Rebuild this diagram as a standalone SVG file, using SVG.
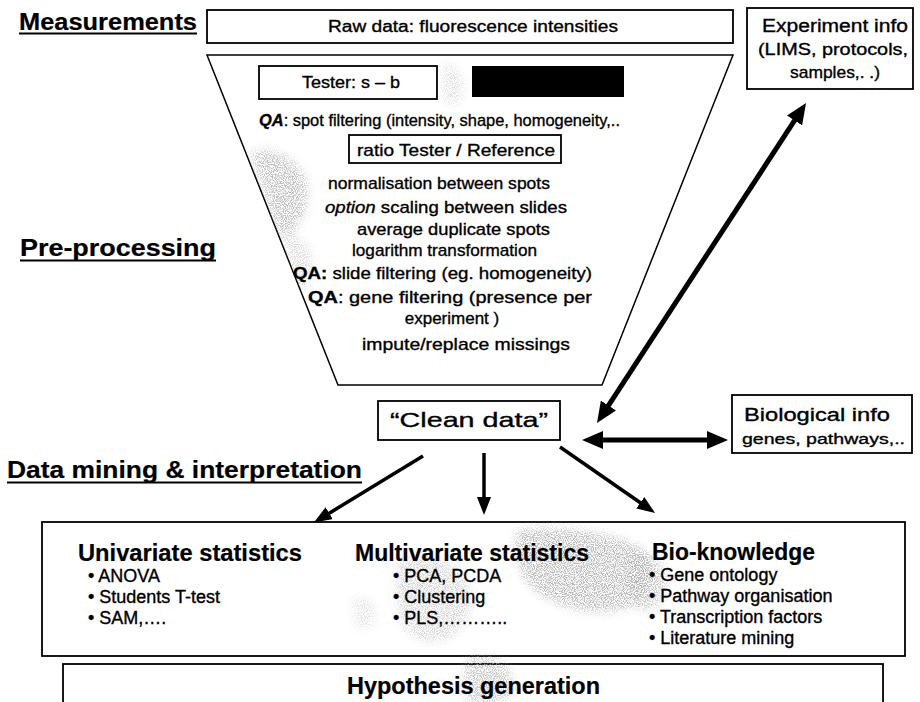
<svg xmlns="http://www.w3.org/2000/svg" width="920" height="702" viewBox="0 0 920 702">
  <style>
    text { font-family: "Liberation Sans", Arial, sans-serif; fill: #000; stroke: #000; stroke-width: 0.35; }
    .head { font-size: 23px; font-weight: bold; stroke-width: 0.2; }
    .body { font-size: 17px; }
    .item { font-size: 18px; }
    .box { fill: #fff; stroke: #000; stroke-width: 1.8; }
    .rule { stroke: #000; stroke-width: 2; }
    .thick { stroke: #000; stroke-width: 5; fill: none; }
    .thin { stroke: #000; stroke-width: 3.5; fill: none; }
    .speckle { fill: #000; filter: url(#grainy); }
  </style>
  <defs>
    <marker id="headBig" markerUnits="userSpaceOnUse" markerWidth="22" markerHeight="18" refX="1" refY="9" orient="auto-start-reverse">
      <path d="M0,0 L21,9 L0,18 z" fill="#000"/>
    </marker>
    <marker id="headSmall" markerUnits="userSpaceOnUse" markerWidth="19" markerHeight="14" refX="1" refY="7" orient="auto">
      <path d="M0,0 L18,7 L0,14 z" fill="#000"/>
    </marker>
    <!-- faded halftone patches: random dots whose density follows a softened shape -->
    <filter id="grainy" x="-30%" y="-30%" width="160%" height="160%">
      <feGaussianBlur in="SourceAlpha" stdDeviation="5" result="soft"/>
      <feTurbulence type="fractalNoise" baseFrequency="0.9" numOctaves="1" seed="7" result="noise"/>
      <feColorMatrix in="noise" type="matrix" values="0 0 0 0 0.42  0 0 0 0 0.42  0 0 0 0 0.42  5 0 0 0 -2.1" result="dots"/>
      <feComposite in="dots" in2="soft" operator="in"/>
    </filter>
    <clipPath id="funnelClip">
      <polygon points="207,55 733,55 602,385 338,385"/>
    </clipPath>
  </defs>

  <rect width="920" height="702" fill="#fff"/>

  <!-- section headings -->
  <g id="heading-measurements">
    <text class="head" x="19" y="30" textLength="178" lengthAdjust="spacingAndGlyphs">Measurements</text>
    <line class="rule" x1="19" y1="33.5" x2="197" y2="33.5"/>
  </g>
  <g id="heading-preprocessing">
    <text class="head" x="20" y="256" textLength="196" lengthAdjust="spacingAndGlyphs">Pre-processing</text>
    <line class="rule" x1="20" y1="260.5" x2="216" y2="260.5"/>
  </g>
  <g id="heading-datamining">
    <text class="head" x="7" y="478" textLength="355" lengthAdjust="spacingAndGlyphs">Data mining &amp; interpretation</text>
    <line class="rule" x1="7" y1="482.5" x2="362" y2="482.5"/>
  </g>

  <!-- raw data -->
  <g id="raw-data">
    <rect class="box" x="207" y="10" width="526" height="33"/>
    <text x="328" y="32" font-size="16" textLength="290" lengthAdjust="spacingAndGlyphs">Raw data: fluorescence intensities</text>
  </g>

  <!-- experiment info -->
  <g id="experiment-info">
    <rect class="box" x="747" y="8" width="166" height="81"/>
    <text x="762" y="32" font-size="18" textLength="146" lengthAdjust="spacingAndGlyphs">Experiment info</text>
    <text x="758" y="55" font-size="17" textLength="150" lengthAdjust="spacingAndGlyphs">(LIMS, protocols,</text>
    <text x="790" y="78" font-size="17" textLength="90" lengthAdjust="spacingAndGlyphs">samples,. .)</text>
  </g>

  <!-- pre-processing funnel -->
  <g id="preprocessing">
    <polygon points="207,55 733,55 602,385 338,385" fill="#fff" stroke="#000" stroke-width="1.5"/>
    <g clip-path="url(#funnelClip)">
      <path class="speckle" opacity="0.8" d="M250,152 C270,146 296,156 306,180 C312,204 300,226 287,238 L278,236 Z"/>
      <path class="speckle" opacity="0.45" d="M284,236 C298,232 314,246 312,266 C310,284 300,292 292,290 Z"/>
      <path class="speckle" opacity="0.4" d="M442,64 C454,62 464,72 463,90 C462,104 452,108 444,102 Z"/>
    </g>
    <rect class="box" x="259" y="66" width="178" height="33"/>
    <text class="body" x="302" y="88" textLength="98" lengthAdjust="spacingAndGlyphs">Tester: s – b</text>
    <rect x="472" y="66" width="152" height="31" fill="#000"/>
    <text class="body" x="259" y="126" textLength="361" lengthAdjust="spacingAndGlyphs"><tspan font-weight="bold" font-style="italic">QA</tspan>: spot filtering (intensity, shape, homogeneity,..</text>
    <rect class="box" x="349" y="135" width="212" height="28"/>
    <text class="body" x="357" y="156" textLength="198" lengthAdjust="spacingAndGlyphs">ratio Tester / Reference</text>
    <text class="body" x="328" y="189" textLength="222" lengthAdjust="spacingAndGlyphs">normalisation between spots</text>
    <text class="body" x="325" y="213" textLength="242" lengthAdjust="spacingAndGlyphs"><tspan font-style="italic">option</tspan> scaling between slides</text>
    <text class="body" x="357" y="235" textLength="193" lengthAdjust="spacingAndGlyphs">average duplicate spots</text>
    <text class="body" x="352" y="256" textLength="185" lengthAdjust="spacingAndGlyphs">logarithm transformation</text>
    <text class="body" x="293" y="279" textLength="299" lengthAdjust="spacingAndGlyphs"><tspan font-weight="bold">QA:</tspan> slide filtering (eg. homogeneity)</text>
    <text class="body" x="308" y="303" textLength="284" lengthAdjust="spacingAndGlyphs"><tspan font-weight="bold">QA</tspan>: gene filtering (presence per</text>
    <text class="body" x="452" y="324" text-anchor="middle">experiment )</text>
    <text class="body" x="362" y="350" textLength="208" lengthAdjust="spacingAndGlyphs">impute/replace missings</text>
  </g>

  <!-- clean data -->
  <g id="clean-data">
    <rect class="box" x="378" y="401" width="182" height="39"/>
    <text x="390" y="427" font-size="21" textLength="158" lengthAdjust="spacingAndGlyphs">“Clean data”</text>
  </g>

  <!-- biological info -->
  <g id="biological-info">
    <rect class="box" x="732" y="395" width="180" height="58"/>
    <text x="744" y="421" font-size="18" textLength="146" lengthAdjust="spacingAndGlyphs">Biological info</text>
    <text x="742" y="444" font-size="15.5" textLength="163" lengthAdjust="spacingAndGlyphs">genes, pathways,..</text>
  </g>

  <!-- analysis methods -->
  <g id="analysis">
    <rect class="box" x="42" y="522" width="863" height="134"/>
    <path class="speckle" opacity="0.5" d="M398,560 C425,548 462,560 470,590 C476,620 456,644 426,642 C402,638 392,610 398,560 Z"/>
    <path class="speckle" opacity="0.85" d="M518,530 C560,524 612,532 640,548 C656,564 652,594 632,606 C604,618 562,610 540,594 C520,580 510,552 518,530 Z"/>
    <path class="speckle" opacity="0.7" d="M630,552 C648,548 664,558 666,580 C668,600 656,612 640,610 C630,602 626,572 630,552 Z"/>
    <path class="speckle" opacity="0.35" d="M352,598 C362,594 376,600 376,614 C376,626 366,632 356,628 Z"/>
    <text class="head" x="78" y="561" textLength="224" lengthAdjust="spacingAndGlyphs">Univariate statistics</text>
    <text class="item" x="88" y="582">• ANOVA</text>
    <text class="item" x="88" y="603">• Students T-test</text>
    <text class="item" x="88" y="624">• SAM,….</text>
    <text class="head" x="355" y="561" textLength="234" lengthAdjust="spacingAndGlyphs">Multivariate statistics</text>
    <text class="item" x="393" y="582">• PCA, PCDA</text>
    <text class="item" x="393" y="603">• Clustering</text>
    <text class="item" x="393" y="624">• PLS,………..</text>
    <text class="head" x="652" y="560" textLength="163" lengthAdjust="spacingAndGlyphs">Bio-knowledge</text>
    <text class="item" x="649" y="581">• Gene ontology</text>
    <text class="item" x="649" y="602">• Pathway organisation</text>
    <text class="item" x="649" y="623">• Transcription factors</text>
    <text class="item" x="649" y="644">• Literature mining</text>
  </g>

  <!-- hypothesis -->
  <g id="hypothesis">
    <rect class="box" x="63" y="664" width="820" height="60"/>
    <path class="speckle" opacity="0.7" d="M468,658 C490,652 512,662 514,684 C514,702 496,706 470,706 C462,690 462,672 468,658 Z"/>
    <text class="head" x="347" y="694" textLength="253" lengthAdjust="spacingAndGlyphs">Hypothesis generation</text>
  </g>

  <!-- connectors -->
  <g id="connectors">
    <line class="thick" x1="795.1" y1="119.7" x2="607.9" y2="406.3" marker-start="url(#headBig)" marker-end="url(#headBig)"/>
    <line class="thick" x1="602" y1="440" x2="708" y2="440" marker-start="url(#headBig)" marker-end="url(#headBig)"/>
    <line class="thin" x1="423" y1="456" x2="328.4" y2="513.7" marker-end="url(#headSmall)"/>
    <line class="thin" x1="484" y1="453" x2="484" y2="498" marker-end="url(#headSmall)"/>
    <line class="thin" x1="560" y1="447" x2="641.1" y2="503.3" marker-end="url(#headSmall)"/>
  </g>
</svg>
